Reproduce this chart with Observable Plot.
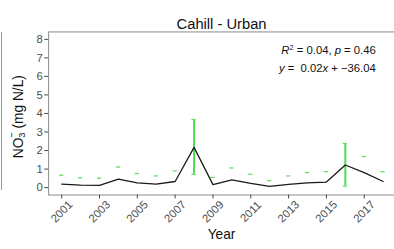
<!DOCTYPE html>
<html>
<head>
<meta charset="utf-8">
<script src="https://cdn.jsdelivr.net/npm/d3@7"></script>
<script src="https://cdn.jsdelivr.net/npm/@observablehq/plot@0.6"></script>
<style>
  html, body { margin: 0; padding: 0; background: #fff; overflow: hidden; }
  #wrap { position: relative; width: 394px; height: 249px; overflow: hidden; }
  #edge { position: absolute; left: 1px; top: 32px; width: 1px; height: 158px; background: #999; }
  svg { font-family: "Liberation Sans", Arial, sans-serif; }
</style>
</head>
<body>
<div id="wrap"><div id="edge"></div></div>
<script>
const years = [2001,2002,2003,2004,2005,2006,2007,2008,2009,2010,2011,2012,2013,2014,2015,2016,2017,2018];
const meanValues = [0.19,0.14,0.12,0.46,0.25,0.19,0.33,2.17,0.16,0.42,0.23,0.07,0.18,0.25,0.30,1.22,0.81,0.33];
const upperValues = [0.67,0.53,0.51,1.11,0.76,0.63,0.90,3.67,0.55,1.06,0.72,0.37,0.63,0.81,0.86,2.38,1.68,0.86];
const lowerValues = [null,null,null,null,null,null,null,0.72,null,null,null,null,null,null,null,0.08,null,null];
const tickYears = [2001,2003,2005,2007,2009,2011,2013,2015,2017];
const yTicks = [0,1,2,3,4,5,6,7,8];
const titleText = "Cahill - Urban";
const xLabel = "Year";
const statLine1 = "R² = 0.04, p = 0.46";
const statLine2 = "y = 0.02x + -36.04";

const data = years.map((y, i) => ({year: y, mean: meanValues[i], upper: upperValues[i], lower: lowerValues[i]}));
const bars = data.filter(d => d.lower != null);
const capHalf = 0.11;

const plot = Plot.plot({
  width: 401,
  height: 249,
  marginLeft: 49,
  marginRight: 0,
  marginTop: 32,
  marginBottom: 51,
  style: {fontFamily: '"Liberation Sans", Arial, sans-serif', background: "transparent"},
  x: {domain: [2000.31, 2018.6]},
  y: {domain: [-0.4, 8.4]},
  marks: [
    Plot.frame({stroke: "#8a8a8a", strokeWidth: 1}),
    Plot.axisY(yTicks, {tickSize: 4, tickPadding: 2, fontSize: 11.5, fill: "#4d4d4d", stroke: "#444", label: null}),
    Plot.axisX(tickYears, {tickSize: 4, tickFormat: () => "", stroke: "#444", label: null}),
    Plot.text(tickYears, {x: d => d, frameAnchor: "bottom", dy: 17, rotate: -45, text: d => String(d), fontSize: 11.5, fill: "#4d4d4d", textAnchor: "middle", lineAnchor: "middle"}),
    Plot.ruleX(bars, {x: "year", y1: "lower", y2: "upper", stroke: "#4be04b", strokeWidth: 2}),
    Plot.ruleY(data, {y: "upper", x1: d => d.year - capHalf, x2: d => d.year + capHalf, stroke: "#62dd62", strokeWidth: 1.3}),
    Plot.ruleY(bars, {y: "lower", x1: d => d.year - capHalf, x2: d => d.year + capHalf, stroke: "#62dd62", strokeWidth: 1.3}),
    Plot.line(data, {x: "year", y: "mean", stroke: "#1a1a1a", strokeWidth: 1.3}),
    Plot.text([titleText], {frameAnchor: "top", dy: -14, text: d => d, fontSize: 15, fill: "#111"}),
    Plot.text([xLabel], {frameAnchor: "bottom", dy: 45, text: d => d, fontSize: 14, fill: "#111"}),
    Plot.text([statLine1], {frameAnchor: "top-right", dx: -19, dy: 19, text: d => d, fontSize: 11.5, fill: "#111", textAnchor: "end", lineAnchor: "middle", className: "stat1"}),
    Plot.text([statLine2], {frameAnchor: "top-right", dx: -19, dy: 37, text: d => d, fontSize: 11.5, fill: "#111", textAnchor: "end", lineAnchor: "middle", className: "stat2"})
  ]
});

document.getElementById("wrap").appendChild(plot);

const svg = d3.select(plot);
function rich(sel, parts) {
  const t = sel.select("text");
  if (t.empty()) return;
  t.text(null);
  parts.forEach(p => {
    const ts = t.append("tspan").text(p.t);
    if (p.i) ts.attr("font-style", "italic");
    if (p.sup) ts.attr("font-size", 7.5).attr("baseline-shift", "super");
  });
}
rich(svg.select(".stat1"), [{t: "R", i: true}, {t: "2", sup: true}, {t: " = 0.04, "}, {t: "p", i: true}, {t: " = 0.46"}]);
rich(svg.select(".stat2"), [{t: "y", i: true}, {t: " =  0.02"}, {t: "x", i: true}, {t: " + −36.04"}]);

// y-axis label with stacked sub/superscript, centred by measuring
const ylab = svg.append("text")
  .attr("text-anchor", "start")
  .attr("dominant-baseline", "middle")
  .attr("font-size", 14)
  .attr("fill", "#111");
ylab.append("tspan").text("NO");
ylab.append("tspan").attr("font-size", 9.5).attr("dy", 4).text("3");
ylab.append("tspan").attr("font-size", 9.5).attr("dx", -5.5).attr("dy", -10).text("−");
ylab.append("tspan").attr("dy", 6).text(" (mg N/L)");
let len = 90;
try { len = ylab.node().getComputedTextLength() || 90; } catch (e) {}
ylab.attr("transform", `translate(19,${116 + len / 2}) rotate(-90)`);
</script>
</body>
</html>
